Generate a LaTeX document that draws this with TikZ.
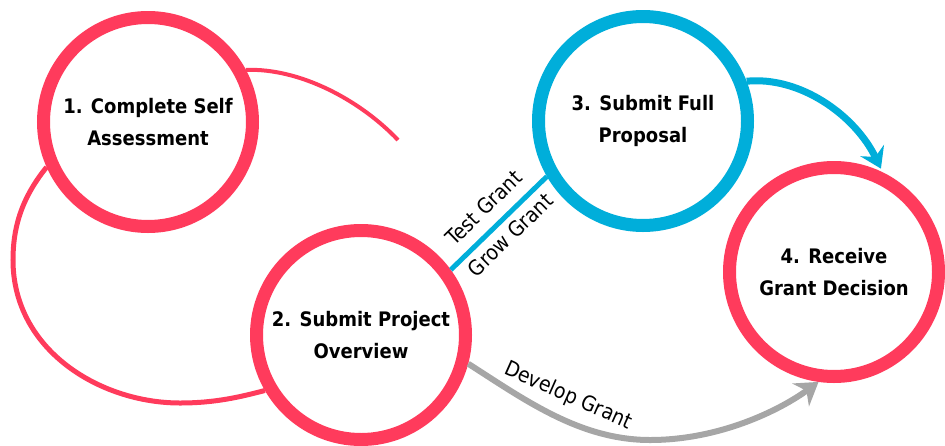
\documentclass[tikz,border=0pt]{standalone}
\usepackage{fontspec}
\setmainfont{DejaVu Sans Condensed}
\usepackage{tikz}
\usetikzlibrary{arrows.meta}
\definecolor{StepRed}{HTML}{FF3B5C}
\definecolor{StepBlue}{HTML}{00AEDA}
\definecolor{StepGray}{HTML}{A6A6A6}
\tikzset{
  % Circle styles
  stepcircle/.style={circle, draw=StepRed, fill=white, line width=13pt, minimum size=209pt, inner sep=0pt, font=\fontsize{20}{32}\selectfont\bfseries, align=center},
  % Line styles
  thinred/.style={StepRed, line width=4pt},
  loopred/.style={StepRed, line width=5pt},
  blueline/.style={StepBlue, line width=5pt},
  bluearrow/.style={-{Stealth[length=20pt, width=26pt, inset=7pt]}, StepBlue, line width=7pt, shorten >=4pt},
  grayarrow/.style={-{Stealth[length=22pt, width=28pt, inset=7pt]}, StepGray, line width=6pt},
  % Label style
  pathlabel/.style={font=\fontsize{21}{24}\selectfont, text=black, inner sep=1pt}
}

\begin{document}
\begin{tikzpicture}[x=1pt, y=-1pt]
  \useasboundingbox (0,0) rectangle (945,445);

  % Steps
  \node[stepcircle] (assess) at (148,122) {1. Complete Self\\Assessment};
  \node[stepcircle] (overview) at (361,335) {2. Submit Project\\Overview};
  \node[stepcircle, draw=StepBlue] (proposal) at (643,121) {3. Submit Full\\Proposal};
  \node[stepcircle] (decision) at (834,272) {4. Receive\\Grant Decision};

  % Loop round the first two steps
  \coordinate (loopend) at (398,140);
  \draw[thinred] (assess.28) .. controls (300,68) and (360,100) .. (loopend);
  \draw[loopred] (assess.204) .. controls (20,200) and (13,230) .. (13,260)
    .. controls (13,350) and (100,403) .. (180,403)
    .. controls (215,403) and (240,397) .. (overview.210);

  % Routes to a decision
  \draw[blueline] (overview.36) --
    node[pathlabel, midway, sloped, above=10pt] {Test Grant}
    node[pathlabel, midway, sloped, below=5pt] {Grow Grant} (proposal.210);
  \draw[bluearrow] (proposal.21) .. controls (800,76) and (855,115) .. (decision.64);
  \draw[grayarrow] (overview.345) .. controls (525,400) and (580,440) .. (650,440)
    .. controls (720,440) and (780,410) .. (decision.262);
  \node[pathlabel, rotate=-24] (develop) at (568,396) {Develop Grant};
\end{tikzpicture}
\end{document}
